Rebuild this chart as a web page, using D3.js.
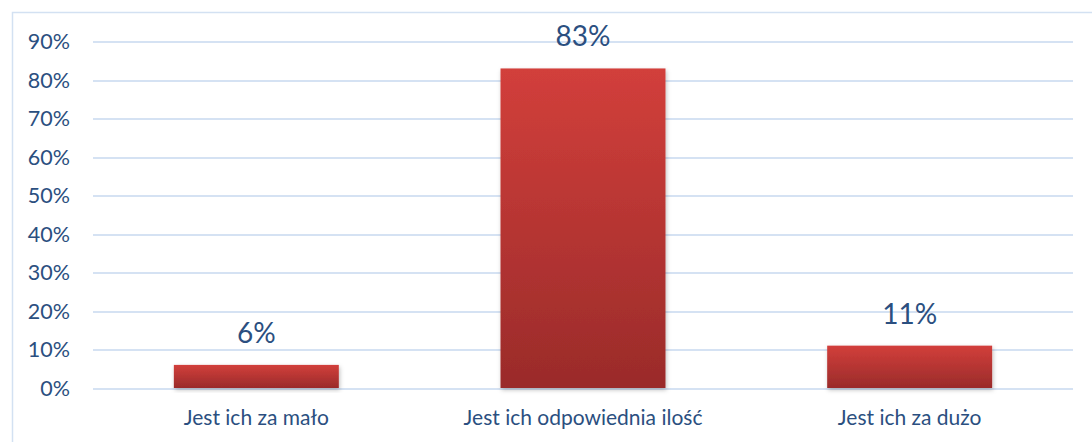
<!DOCTYPE html>
<html>
<head>
<meta charset="utf-8">
<script src="https://cdn.jsdelivr.net/npm/d3@7"></script>
<style>
body { margin: 0; background: #fff; }
text { font-family: Lato, "Noto Sans", sans-serif; fill: #2b4f80; }
</style>
</head>
<body>
<div id="chart"></div>
<script>
// data
var categories = ["Jest ich za mało", "Jest ich odpowiednia ilość", "Jest ich za dużo"];
var values = [6, 83, 11];
var yTicks = [0, 10, 20, 30, 40, 50, 60, 70, 80, 90];

var W = 1092, H = 442;
var margin = {top: 41.5, left: 93, right: 19, bottom: 54};
var width = W - margin.left - margin.right,
    height = H - margin.top - margin.bottom;

var svg = d3.select("#chart").append("svg")
  .attr("width", W).attr("height", H);

// outer frame (runs off the right/bottom edge)
svg.append("rect")
  .attr("x", 12.5).attr("y", 12.5)
  .attr("width", W + 20).attr("height", H + 20)
  .attr("fill", "none").attr("stroke", "#d3e1f2").attr("stroke-width", 1.5);

var defs = svg.append("defs");
var grad = defs.append("linearGradient").attr("id", "barGrad")
  .attr("x1", 0).attr("y1", 0).attr("x2", 0).attr("y2", 1);
grad.append("stop").attr("offset", "0%").attr("stop-color", "#d23f3b");
grad.append("stop").attr("offset", "100%").attr("stop-color", "#9a2b2a");

var shadow = defs.append("filter").attr("id", "shadow")
  .attr("x", "-10%").attr("y", "-10%").attr("width", "120%").attr("height", "130%");
shadow.append("feDropShadow").attr("dx", 1).attr("dy", 2).attr("stdDeviation", 2)
  .attr("flood-color", "#000").attr("flood-opacity", 0.25);

var g = svg.append("g")
  .attr("transform", "translate(" + margin.left + "," + margin.top + ")");

var y = d3.scaleLinear().domain([0, 90]).range([height, 0]);
var x = d3.scaleBand().domain(categories).range([0, width])
  .paddingInner(0.495).paddingOuter(0.2475);

// gridlines
g.append("g").selectAll("line")
  .data(yTicks).enter().append("line")
  .attr("x1", 0).attr("x2", width)
  .attr("y1", function(d){ return Math.round(y(d)) + 0.5; })
  .attr("y2", function(d){ return Math.round(y(d)) + 0.5; })
  .attr("stroke", "#d5e2f3").attr("stroke-width", 2);

// y labels
g.append("g").selectAll("text")
  .data(yTicks).enter().append("text")
  .attr("x", -23)
  .attr("y", function(d){ return y(d); })
  .attr("dy", "0.36em")
  .attr("text-anchor", "end")
  .style("font-size", "21.5px")
  .text(function(d){ return d + "%"; });

// bars
g.append("g").selectAll("rect")
  .data(values).enter().append("rect")
  .attr("x", function(d, i){ return x(categories[i]); })
  .attr("y", function(d){ return y(d); })
  .attr("width", x.bandwidth())
  .attr("height", function(d){ return height - y(d); })
  .attr("fill", "url(#barGrad)")
  .attr("filter", "url(#shadow)");

// value labels
g.append("g").selectAll("text")
  .data(values).enter().append("text")
  .attr("x", function(d, i){ return x(categories[i]) + x.bandwidth() / 2; })
  .attr("y", function(d){ return y(d) - 22; })
  .attr("text-anchor", "middle")
  .style("font-size", "28px")
  .text(function(d){ return d + "%"; });

// category labels
g.append("g").selectAll("text")
  .data(categories).enter().append("text")
  .attr("x", function(d){ return x(d) + x.bandwidth() / 2; })
  .attr("y", height + 37)
  .attr("text-anchor", "middle")
  .style("font-size", "21px")
  .text(function(d){ return d; });
</script>
</body>
</html>
